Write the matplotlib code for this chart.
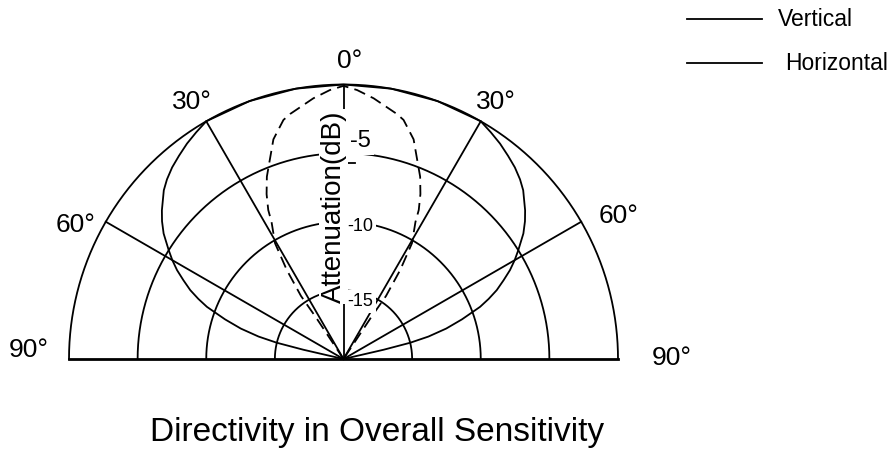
import numpy as np
import matplotlib
matplotlib.use("Agg")
import matplotlib.pyplot as plt
from matplotlib.lines import Line2D

plt.rcParams['font.family'] = ['Liberation Sans', 'DejaVu Sans']

# ---- data (angle from front axis in degrees, attenuation in dB), one half, mirrored ----
solid_theta = [0, 10, 20, 30, 33, 36, 39, 41.8, 44.5, 46.8, 48.7, 50.7, 52.8, 55.1, 58.1,
               60, 61.9, 63.8, 65.8, 67.5, 69.1, 71.5, 73.5, 75.2, 76.3, 77, 77.5]
solid_db = [0, 0, 0, 0, -0.3, -0.6, -0.95, -1.27, -1.65, -2.04, -2.48, -2.9, -3.4, -4.02, -5.0,
            -5.6, -6.25, -7.0, -7.76, -8.55, -9.35, -10.9, -12.2, -13.6, -15.0, -17.0, -20]

dashed_theta = [0, 2.9, 6.6, 12.3, 14.1, 17.7, 22.8, 25, 26.8, 27.7, 30.6, 32.5, 34, 33.5, 33.5, 33.5]
dashed_db = [-0.1, -0.38, -0.88, -1.73, -2.04, -3.2, -5.59, -6.74, -7.84, -8.72, -10.2, -12.31,
             -14.46, -16.36, -18.64, -20]

ring_db = [-15, -10, -5, 0]
spoke_deg = [-60, -30, 0, 30, 60]
angle_labels = ["90°", "60°", "30°", "0°", "30°", "60°", "90°"]
db_labels = ["-5", "-10", "-15"]
legend_labels = ["Vertical", "Horizontal"]
title = "Directivity in Overall Sensitivity"
ylabel = "Attenuation(dB)"
DB_MIN = -20


def to_xy(theta_deg, db):
    t = np.deg2rad(np.asarray(theta_deg, dtype=float))
    r = np.asarray(db, dtype=float) - DB_MIN
    return r * np.sin(t), r * np.cos(t)


W, H = 890, 450
def fx(x): return x / W
def fy(y): return 1 - y / H

fig = plt.figure(figsize=(8.9, 4.5), dpi=100)
cx, cy, R = 343.5, 359.0, 274.5
ax = fig.add_axes([fx(cx - R), fy(cy), 2 * R / W, R / H])
ax.set_xlim(-20, 20)
ax.set_ylim(0, 20)
ax.axis('off')

lw = 1.3
# rings
th = np.linspace(-90, 90, 721)
for rd in ring_db:
    x, y = to_xy(th, np.full_like(th, rd))
    ax.plot(x, y, color='black', lw=lw, zorder=1, clip_on=False)
# spokes
for sd in spoke_deg:
    x, y = to_xy([sd, sd], [DB_MIN, 0])
    ax.plot(x, y, color='black', lw=lw, zorder=4, clip_on=False)
# baseline
x, y = to_xy([-90, 90], [0, 0])
ax.plot(x, y, color='black', lw=2.0, zorder=4, clip_on=False, solid_capstyle='projecting')
# small tick near -5
ax.plot([0, 0.85], [20 - 5.7, 20 - 5.7], color='black', lw=lw, zorder=4, clip_on=False)

# curves
st = np.array(solid_theta)
sdb = np.array(solid_db)
x, y = to_xy(np.concatenate([-st[::-1], st]), np.concatenate([sdb[::-1], sdb]))
ax.plot(x, y, color='black', lw=lw, zorder=4, clip_on=False, solid_joinstyle='round')
dt = np.array(dashed_theta)
ddb = np.array(dashed_db)
x, y = to_xy(np.concatenate([-dt[::-1], dt]), np.concatenate([ddb[::-1], ddb]))
ax.plot(x, y, color='black', lw=lw, zorder=4, clip_on=False, dashes=(6.5, 3.5))

# angle labels (left x, baseline y in pixels)
ang_pos = [(9, 356.7), (55.5, 231.7), (172, 109.3), (337.5, 68.3), (476, 109.3), (599, 223.3), (652, 365)]
for lab, (px, py) in zip(angle_labels, ang_pos):
    fig.text(fx(px), fy(py), lab, fontsize=19, ha='left', va='baseline')

# dB labels
bb = dict(facecolor='white', edgecolor='none', pad=2)
fig.text(fx(350), fy(146.7), db_labels[0], fontsize=17, ha='left', va='baseline', bbox=bb, zorder=3)
fig.text(fx(347.5), fy(230.7), db_labels[1], fontsize=13, ha='left', va='baseline', bbox=bb, zorder=3)
fig.text(fx(347.5), fy(306), db_labels[2], fontsize=13, ha='left', va='baseline', bbox=bb, zorder=3)

fig.text(fx(340.5), fy(206.5), ylabel, fontsize=20, rotation=90, rotation_mode='anchor',
         ha='center', va='baseline', bbox=dict(facecolor='white', edgecolor='none', pad=1), zorder=3)

# legend
for lab, ly, tx in zip(legend_labels, [19, 62.7], [778, 785]):
    fig.add_artist(Line2D([fx(686.7), fx(761.7)], [fy(ly), fy(ly)], transform=fig.transFigure,
                          color='black', lw=1.3))
    fig.text(fx(tx), fy(ly + 7.5), lab, fontsize=16.5, ha='left', va='baseline')

fig.text(fx(150), fy(441), title, fontsize=24, ha='left', va='baseline')

fig.savefig('out.png', dpi=100)
